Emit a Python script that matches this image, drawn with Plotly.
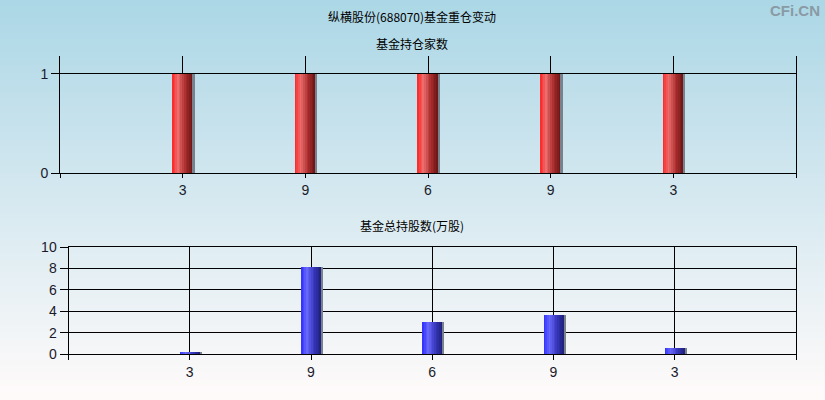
import plotly.graph_objects as go
from plotly.subplots import make_subplots

# data
quarters = ["3", "9", "6", "9", "3"]
fund_count = [1, 1, 1, 1, 1]
fund_shares = [0.1, 8.1, 3.0, 3.6, 0.6]

title_text = "纵横股份(688070)基金重仓变动"
top_title = "基金持仓家数"
bottom_title = "基金总持股数(万股)"

W, H = 825, 400
BAR_W = 0.165
SLICES = 12


def mix(c1, c2, t):
    return tuple(int(round(a + (b - a) * t)) for a, b in zip(c1, c2))


def ramp(stops, t):
    """Piecewise-linear colour ramp; stops = [(pos, rgb), ...]."""
    for (p0, c0), (p1, c1) in zip(stops, stops[1:]):
        if p0 <= t <= p1:
            return mix(c0, c1, (t - p0) / (p1 - p0))
    return stops[-1][1]


RED_STOPS = [(0, (255, 35, 35)), (0.3, (236, 110, 110)), (0.65, (170, 45, 45)), (1, (105, 20, 20))]
BLUE_STOPS = [(0, (45, 45, 255)), (0.3, (105, 105, 250)), (0.65, (55, 55, 190)), (1, (30, 30, 120))]


def add_cylinder_bars(fig, xs, ys, stops, row):
    """Fake a shaded bar by stacking thin slices side by side."""
    step = BAR_W / SLICES
    for i in range(SLICES):
        c = ramp(stops, (i + 0.5) / SLICES)
        fig.add_trace(go.Bar(
            x=xs, y=ys, width=step * 1.05, offset=-BAR_W / 2 + i * step,
            marker=dict(color="rgb(%d,%d,%d)" % c, line=dict(width=0)),
            showlegend=False, hoverinfo="skip"
        ), row=row, col=1)
    # thin grey shadow on the right
    fig.add_trace(go.Bar(
        x=xs, y=ys, width=0.014, offset=BAR_W / 2,
        marker=dict(color="rgb(120,130,140)", line=dict(width=0)),
        showlegend=False, hoverinfo="skip"
    ), row=row, col=1)


positions = list(range(1, len(quarters) + 1))

fig = make_subplots(rows=2, cols=1)
add_cylinder_bars(fig, positions, fund_count, RED_STOPS, 1)
add_cylinder_bars(fig, positions, fund_shares, BLUE_STOPS, 2)

# gradient background made of horizontal bands
top_c, bot_c = (172, 215, 230), (255, 250, 250)
bands = 60
shapes = []
for i in range(bands):
    c = mix(top_c, bot_c, i / (bands - 1))
    shapes.append(dict(
        type="rect", xref="paper", yref="paper", layer="below",
        x0=0, x1=1, y0=1 - (i + 1) / bands, y1=1 - i / bands + 0.002,
        fillcolor="rgb(%d,%d,%d)" % c, line=dict(width=0)
    ))

tick_font = dict(family="Liberation Sans Narrow, Liberation Sans, Arial, sans-serif", size=14, color="#1a1a2a")
cjk_font = dict(family="Noto Sans CJK SC", size=12, color="#000000")

axis_common = dict(
    showgrid=True, gridcolor="black", gridwidth=1,
    showline=True, linecolor="black", linewidth=1,
    zeroline=False, tickfont=tick_font, tickcolor="black",
    automargin=False,
)

fig.update_layout(
    width=W, height=H,
    margin=dict(l=0, r=0, t=0, b=0, pad=0),
    paper_bgcolor="rgba(0,0,0,0)",
    plot_bgcolor="rgba(0,0,0,0)",
    barmode="overlay",
    bargap=0,
    showlegend=False,
    shapes=shapes,
    xaxis=dict(domain=[60 / W, 796 / W], range=[0, 6], tickvals=positions, ticktext=quarters,
               ticks="outside", ticklen=4,
               minor=dict(tickvals=[0, 6], ticks="outside", ticklen=4, tickcolor="black", showgrid=False),
               **axis_common),
    yaxis=dict(domain=[1 - 173 / H, 1 - 56 / H], range=[0, 1.18], tickvals=[0, 1],
               ticks="outside", ticklen=8, mirror=True, **axis_common),
    xaxis2=dict(domain=[68.5 / W, 796 / W], range=[0, 6], tickvals=positions, ticktext=quarters,
                ticks="outside", ticklen=5, mirror=True,
                minor=dict(tickvals=[0, 6], ticks="outside", ticklen=5, tickcolor="black", showgrid=False),
                **axis_common),
    yaxis2=dict(domain=[1 - 354 / H, 1 - 247 / H], range=[0, 10], tickvals=[0, 2, 4, 6, 8, 10],
                ticks="outside", ticklen=8, mirror=True, **axis_common),
)

fig.add_annotation(text=title_text, x=412 / W, y=1 - 17 / H, xref="paper", yref="paper",
                   showarrow=False, font=cjk_font, xanchor="center", yanchor="middle")
fig.add_annotation(text=top_title, x=412 / W, y=1 - 43 / H, xref="paper", yref="paper",
                   showarrow=False, font=cjk_font, xanchor="center", yanchor="middle")
fig.add_annotation(text=bottom_title, x=412 / W, y=1 - 225 / H, xref="paper", yref="paper",
                   showarrow=False, font=cjk_font, xanchor="center", yanchor="middle")
fig.add_annotation(text="<b>CFi.CN</b>", x=822 / W, y=1 - 10 / H, xref="paper", yref="paper",
                   showarrow=False, xanchor="right", yanchor="middle",
                   font=dict(family="Liberation Sans, Arial, sans-serif", size=15, color="#8a9aa4"))

fig.write_html("out.html", config={"displayModeBar": False},
               post_script="document.body.style.margin='0px';")
